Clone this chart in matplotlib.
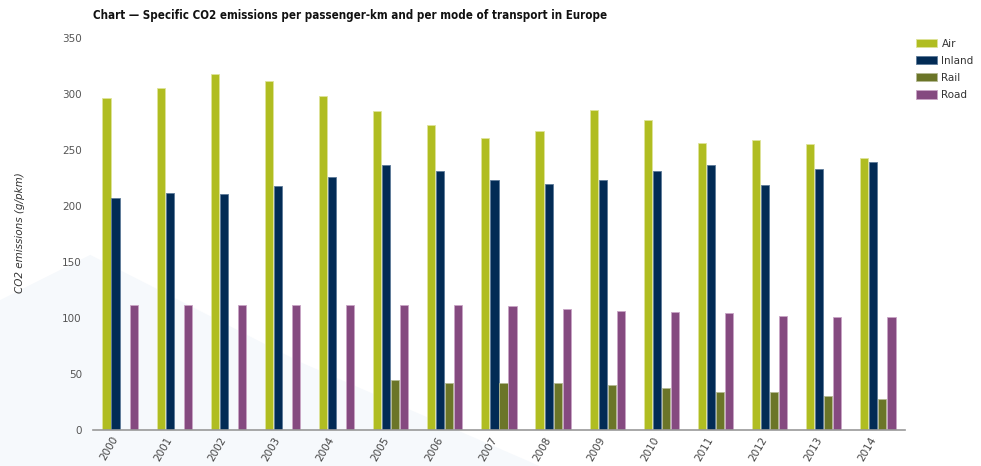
import numpy as np
import matplotlib.pyplot as plt
import matplotlib.transforms as mtransforms
from matplotlib.patches import Polygon

years = [str(y) for y in range(2000, 2015)]
air = [296, 305, 318, 312, 298, 285, 272, 261, 267, 286, 277, 256, 259, 255, 243]
inland = [207, 212, 211, 218, 226, 237, 231, 223, 220, 223, 231, 237, 219, 233, 239]
rail = [np.nan] * 5 + [45, 42, 42, 42, 40.5, 37.5, 34, 33.5, 30.5, 27.5]
road = [112, 112, 112, 111.5, 111.5, 111.5, 111.5, 110.5, 108, 106, 105, 104, 102, 100.5, 100.5]

series = [("Air", air, "#b0bd21", "#dfe49a"),
          ("Inland", inland, "#022b55", "#5d7a99"),
          ("Rail", rail, "#6b7528", "#b5ba93"),
          ("Road", road, "#854a80", "#c9a5c5")]

fig = plt.figure(figsize=(9.81, 4.66), dpi=100)

# faint watermark swoosh behind the plot
fig.patches.append(Polygon([(0, 0), (0, 0.356), (0.092, 0.453), (0.306, 0.223), (0.55, 0.0)],
                           closed=True, transform=fig.transFigure,
                           facecolor="#f6f9fc", edgecolor="none", zorder=-5))

ax = fig.add_axes([0.0948, 0.0773, 0.8277, 0.8412])
ax.patch.set_alpha(0)

x = np.arange(len(years))
w = 0.15
step = 0.167
for i, (name, vals, col, edge) in enumerate(series):
    ax.bar(x + (i - 1.5) * step, vals, width=w, color=col, edgecolor=edge,
           linewidth=0.6, label=name, zorder=2)

ax.set_xlim(-0.5, len(years) - 0.5)
ax.set_ylim(0, 350)
ax.set_yticks(range(0, 351, 50))
ax.set_xticks(x)
ax.set_xticklabels(years, rotation=60, ha="right")
shift = mtransforms.ScaledTranslation(3 / 72, 0, fig.dpi_scale_trans)
for lbl in ax.get_xticklabels():
    lbl.set_transform(lbl.get_transform() + shift)
ax.tick_params(axis="y", length=0, pad=8, labelsize=7.5, labelcolor="#555555")
ax.tick_params(axis="x", length=0, pad=3.5, labelsize=7.5, labelcolor="#444444")
for s in ["top", "right", "left"]:
    ax.spines[s].set_visible(False)
ax.spines["bottom"].set_color("#999999")
ax.spines["bottom"].set_linewidth(1.2)

fig.text(0.0204, 0.5, "CO2 emissions (g/pkm)", rotation=90, style="italic",
         fontsize=7.5, color="#333333", va="center", ha="center")
fig.text(0.0948, 0.966, "Chart \u2014 Specific CO2 emissions per passenger-km and per mode of transport in Europe",
         fontsize=8.3, fontweight="bold", fontstretch="condensed", color="#111111",
         va="center", ha="left")

leg = ax.legend(loc="upper left", bbox_to_anchor=(0.9337, 0.917), bbox_transform=fig.transFigure,
                frameon=False, fontsize=7.5, handlelength=2.0, handleheight=0.87,
                labelspacing=0.68, handletextpad=0.45, borderaxespad=0, borderpad=0)
for t in leg.get_texts():
    t.set_color("#333333")

fig.savefig("out.png", dpi=100)
